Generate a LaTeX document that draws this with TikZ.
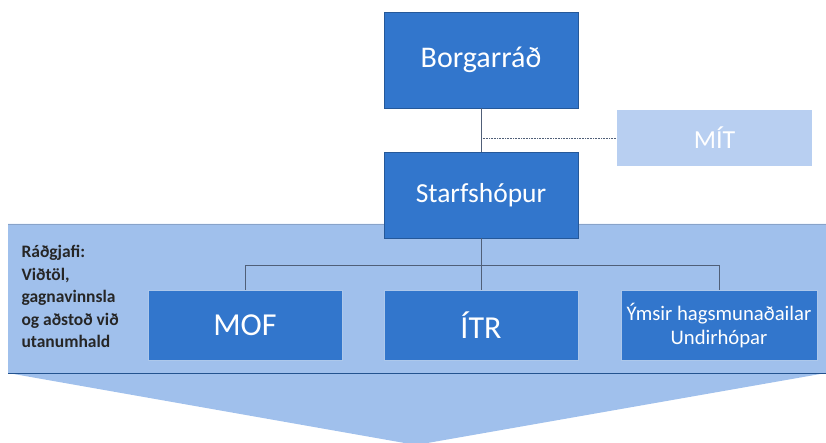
\documentclass[tikz,border=0pt]{standalone}
\usepackage{fontspec}
\setmainfont{Carlito}
\usepackage{tikz}
\usetikzlibrary{positioning}

\definecolor{boxblue}{RGB}{50,118,204}
\definecolor{bgblue}{RGB}{160,192,236}
\definecolor{paleblue}{RGB}{184,207,241}
\definecolor{linegray}{RGB}{80,95,120}

\begin{document}
\begin{tikzpicture}[x=1pt, y=-1pt, node distance=100pt, on grid,
		orgbox/.style={rectangle, fill=boxblue, draw=boxblue!75!black, line width=0.6pt, text=white, minimum width=194pt, align=center},
		unitbox/.style={orgbox, draw=white!60!boxblue, minimum height=70pt},
		link/.style={draw=linegray, line width=0.6pt} ]
			\useasboundingbox (0,0) rectangle (826,443);

			%Bakgrunnur (ör niður):
			\fill[bgblue] (8,224) -- (826,224) -- (826,373) -- (416,445) -- (8,373) -- cycle;
			\draw[boxblue!70!black, line width=1pt] (8,373) -- (826,373);
			\draw[bgblue!85!black, line width=0.5pt] (8,224) -- (826,224);

			\node[orgbox, minimum height=96pt, font=\fontsize{30}{32}\selectfont]		(borg) at (481,60)			{Borgarráð};
			\node[orgbox, minimum height=86pt, font=\fontsize{27.5}{30}\selectfont]		(star) [below=135pt of borg]	{Starfshópur};
			\node[rectangle, fill=paleblue, text=white, minimum width=195pt, minimum height=56pt, font=\fontsize{26}{28}\selectfont]	(mit) at (714.5,138)	{MÍT};

			\node[unitbox, font=\fontsize{32}{34}\selectfont]		(itr) [below=130.5pt of star]	{ÍTR};
			\node[unitbox, font=\fontsize{32}{34}\selectfont]		(mof) [left=236pt of itr]	{MOF};
			\node[unitbox, minimum width=196pt, font=\fontsize{20.7}{24}\selectfont]		(ymsir) [right=238pt of itr]	{Ýmsir hagsmunaðailar\\Undirhópar};

			\node[anchor=north west, align=left, font=\bfseries\fontsize{17.5}{22.5}\selectfont, text=black!85]	(radgjafi) at (18,242)
				{Ráðgjafi:\\Viðtöl,\\gagnavinnsla\\og aðstoð við\\utanumhald};

			%Tengingar:
			\path[link] (borg) -- (star);
			\draw[linegray, line width=0.6pt, densely dotted] (borg.south |- mit.west) -- (mit.west);
			\coordinate (split) at (481,265);
			\path[link] (star.south) -- (split);
			\path[link] (split) -| (mof.north);
			\path[link] (split) -| (ymsir.north);
			\path[link] (split) -- (itr.north);
		\end{tikzpicture}
\end{document}
